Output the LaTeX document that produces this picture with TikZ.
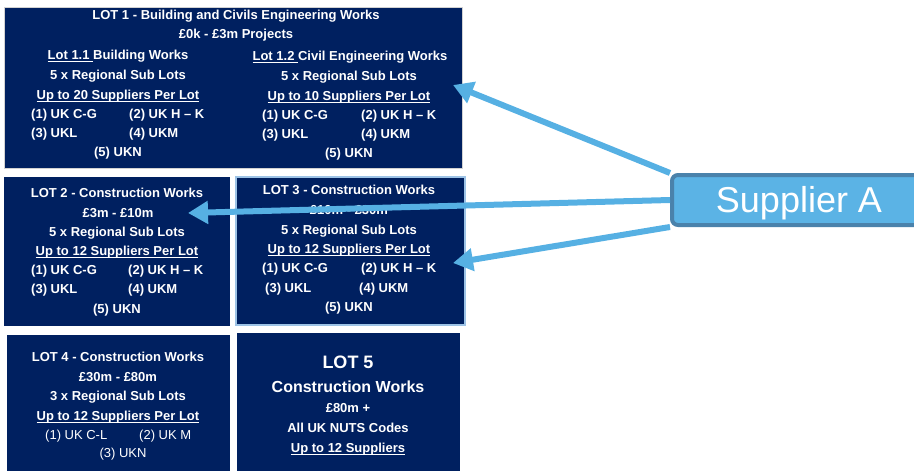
\documentclass[tikz,border=0pt]{standalone}
\usepackage{fontspec}
\setmainfont{Liberation Sans}
\usetikzlibrary{arrows.meta}
\definecolor{lotnavy}{HTML}{002060}
\definecolor{arrowblue}{HTML}{56B0E3}
\definecolor{supfill}{HTML}{5BB3E5}
\definecolor{supedge}{HTML}{4A82AB}
\definecolor{lotedge}{HTML}{9DC3E6}
% underline sitting close to the baseline
\newcommand{\lotline}[1]{\setbox0\hbox{#1}\rlap{\rule[-1.8pt]{\wd0}{0.9pt}}\box0}
\begin{document}
\begin{tikzpicture}[x=1pt,y=-1pt]
\tikzstyle{lot}=[fill=lotnavy, inner sep=0, anchor=north west]
\tikzstyle{txt}=[text=white, inner sep=0, text height=9.4pt, text depth=0pt,
                 font=\bfseries\fontsize{13}{15}\selectfont]
\tikzstyle{plain}=[txt, font=\fontsize{13}{15}\selectfont]
\tikzstyle{code}=[txt, anchor=west]
\tikzstyle{pointer}=[draw=arrowblue, line width=6pt, -{Triangle[length=20pt,width=22pt]}]

\useasboundingbox (0,0) rectangle (914,471);
\clip (0,0) rectangle (914,471);

% the five lots
\node (lot1) [lot, draw=gray!35, line width=1pt, minimum width=458pt, minimum height=161pt] at (4,7) {};
\node (lot2) [lot, minimum width=226pt, minimum height=149pt] at (4,177) {};
\node (lot3) [lot, draw=lotedge, line width=1.5pt, minimum width=229pt, minimum height=148pt] at (235,176) {};
\node (lot4) [lot, minimum width=223pt, minimum height=140pt] at (7,335) {};
\node (lot5) [lot, minimum width=223pt, minimum height=142pt] at (237,333) {};

% lot 1
\node (l1title) [txt] at (236,15) {LOT 1 - Building and Civils Engineering Works};
\node (l1value) [txt] at (236,34) {£0k - £3m Projects};
\node (l11name) [txt] at (118,55) {\lotline{Lot 1.1 }Building Works};
\node (l11sub)  [txt] at (118,75) {5 x Regional Sub Lots};
\node (l11sup)  [txt] at (118,95) {\lotline{Up to 20 Suppliers Per Lot}};
\node (l11a)    [code] at (31,114)  {(1) UK C-G};
\node (l11b)    [code] at (129,114) {(2) UK H -- K};
\node (l11c)    [code] at (31,133)  {(3) UKL};
\node (l11d)    [code] at (129,133) {(4) UKM};
\node (l11e)    [txt] at (118,152) {(5) UKN};
\node (l12name) [txt] at (350,56) {\lotline{Lot 1.2 }Civil Engineering Works};
\node (l12sub)  [txt] at (349,76) {5 x Regional Sub Lots};
\node (l12sup)  [txt] at (349,96) {\lotline{Up to 10 Suppliers Per Lot}};
\node (l12a)    [code] at (262,115) {(1) UK C-G};
\node (l12b)    [code] at (361,115) {(2) UK H -- K};
\node (l12c)    [code] at (262,134) {(3) UKL};
\node (l12d)    [code] at (361,134) {(4) UKM};
\node (l12e)    [txt] at (349,153) {(5) UKN};

% lot 2
\node (l2title) [txt] at (117,193) {LOT 2 - Construction Works};
\node (l2value) [txt] at (118,213) {£3m - £10m};
\node (l2sub)   [txt] at (117,232) {5 x Regional Sub Lots};
\node (l2sup)   [txt] at (117,251) {\lotline{Up to 12 Suppliers Per Lot}};
\node (l2a)     [code] at (31,270)  {(1) UK C-G};
\node (l2b)     [code] at (128,270) {(2) UK H -- K};
\node (l2c)     [code] at (31,289)  {(3) UKL};
\node (l2d)     [code] at (128,289) {(4) UKM};
\node (l2e)     [txt] at (117,309) {(5) UKN};

% lot 3
\node (l3title) [txt] at (349,190) {LOT 3 - Construction Works};
\node (l3value) [txt] at (349,210) {£10m - £30m};
\node (l3sub)   [txt] at (349,230) {5 x Regional Sub Lots};
\node (l3sup)   [txt] at (349,249) {\lotline{Up to 12 Suppliers Per Lot}};
\node (l3a)     [code] at (262,268) {(1) UK C-G};
\node (l3b)     [code] at (361,268) {(2) UK H -- K};
\node (l3c)     [code] at (265,288) {(3) UKL};
\node (l3d)     [code] at (359,288) {(4) UKM};
\node (l3e)     [txt] at (349,307) {(5) UKN};

% lot 4
\node (l4title) [txt] at (118,357) {LOT 4 - Construction Works};
\node (l4value) [txt] at (118,377) {£30m - £80m};
\node (l4sub)   [txt] at (118,396) {3 x Regional Sub Lots};
\node (l4sup)   [txt] at (118,416) {\lotline{Up to 12 Suppliers Per Lot}};
\node (l4a)     [plain, anchor=west] at (45,435)  {(1) UK C-L};
\node (l4b)     [plain, anchor=west] at (139,435) {(2) UK M};
\node (l4c)     [plain] at (123,453) {(3) UKN};

% lot 5
\node (l5title) [txt, text height=13pt, font=\bfseries\fontsize{18}{20}\selectfont] at (348,362) {LOT 5};
\node (l5name)  [txt, text height=11.5pt, font=\bfseries\fontsize{16}{18}\selectfont] at (348,387) {Construction Works};
\node (l5value) [txt] at (348,408) {£80m +};
\node (l5codes) [txt] at (348,428) {All UK NUTS Codes};
\node (l5sup)   [txt] at (348,448) {\lotline{Up to 12 Suppliers}};

% the supplier and where it can bid
\node (supplier) [fill=supfill, draw=supedge, line width=4pt, rounded corners=6pt,
                  minimum width=254pt, minimum height=50pt, inner sep=0,
                  text=white, text height=25.8pt, text depth=0pt,
                  font=\fontsize{36}{40}\selectfont] at (799,200) {Supplier A};
\coordinate (l1tip) at (453,85);
\coordinate (l2tip) at (188,213);
\coordinate (l3tip) at (453,263);

\draw[pointer] (supplier.north west) -- (l1tip);
\draw[pointer] (supplier.west) -- (l2tip);
\draw[pointer] (supplier.south west) -- (l3tip);
\end{tikzpicture}
\end{document}
